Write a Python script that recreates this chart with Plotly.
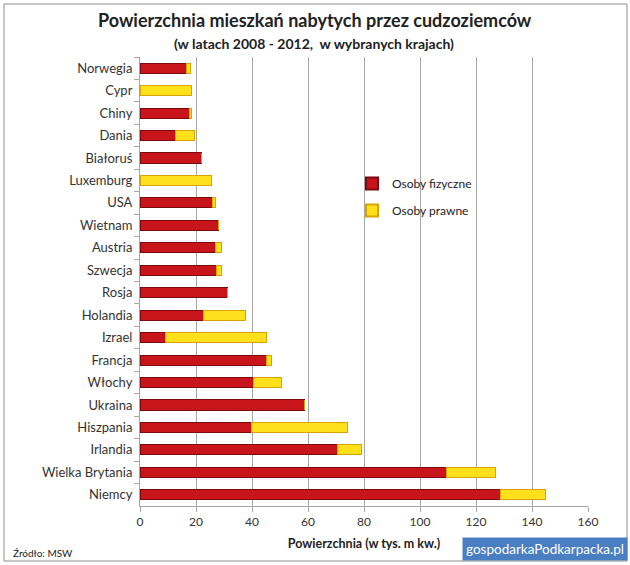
import plotly.graph_objects as go

countries = ["Norwegia", "Cypr", "Chiny", "Dania", "Białoruś", "Luxemburg", "USA", "Wietnam",
             "Austria", "Szwecja", "Rosja", "Holandia", "Izrael", "Francja", "Włochy", "Ukraina",
             "Hiszpania", "Irlandia", "Wielka Brytania", "Niemcy"]
osoby_fizyczne = [16.5, 0.0, 17.5, 12.7, 22.1, 0.0, 25.8, 28.2, 27.0, 27.2, 31.2, 22.5, 9.1, 45.3,
                  40.6, 58.8, 39.7, 70.6, 109.5, 128.7]
osoby_prawne = [1.5, 18.4, 0.9, 6.8, 0.0, 25.6, 1.1, 0.0, 2.0, 1.8, 0.0, 15.1, 36.2, 1.5,
                10.0, 0.0, 34.5, 8.6, 17.3, 16.1]
x_ticks = [0, 20, 40, 60, 80, 100, 120, 140, 160]

FONT = "Lato, 'Open Sans', sans-serif"

fig = go.Figure()
fig.add_trace(go.Bar(
    y=countries, x=osoby_fizyczne, orientation="h", name="Osoby fizyczne", legendgroup="a",
    marker=dict(color="#C8141B", line=dict(color="#7A0A0E", width=1)),
))
fig.add_trace(go.Bar(
    y=countries, x=osoby_prawne, orientation="h", name="Osoby prawne", legendgroup="b",
    marker=dict(color="#FFE01A", line=dict(color="#D9A300", width=1)),
))

L, R, T, B = 140, 42, 57, 59
W, H = 630, 565
pw, ph = W - L - R, H - T - B


def px(x):
    return (x - L) / pw


def py(y):
    return (H - B - y) / ph


fig.update_layout(
    width=W, height=H,
    margin=dict(l=L, r=R, t=T, b=B),
    barmode="stack", bargap=0.55,
    plot_bgcolor="white", paper_bgcolor="white",
    font=dict(family=FONT, size=12, color="#222222"),
    showlegend=True,
    legend=dict(x=px(352), y=py(169), xanchor="left", yanchor="top",
                bgcolor="rgba(255,255,255,0)", font=dict(size=12, color="#222"),
                tracegroupgap=8, itemsizing="constant", traceorder="grouped"),
    xaxis=dict(range=[0, 160], tickvals=x_ticks, showgrid=True, gridcolor="#A6A6A6",
               gridwidth=1, zeroline=False, showline=True, linecolor="#A6A6A6",
               ticks="outside", ticklen=5, tickcolor="#A6A6A6",
               tickfont=dict(size=12, color="#333"),
               title=dict(text="<b>Powierzchnia (w tys. m kw.)</b>", font=dict(size=12.5, color="#222"),
                          standoff=10)),
    yaxis=dict(autorange="reversed", showline=True, linecolor="#A6A6A6", ticks="outside",
               tickson="boundaries", ticklen=5, tickcolor="#A6A6A6", ticklabelstandoff=4,
               tickfont=dict(size=13, color="#333"), showgrid=False),
    annotations=[
        dict(text="<b>Powierzchnia mieszkań nabytych przez cudzoziemców</b>", x=px(315), y=py(20),
             xref="paper", yref="paper", yanchor="middle", showarrow=False,
             font=dict(size=18, color="#222")),
        dict(text="<b>(w latach 2008 - 2012,  w wybranych krajach)</b>", x=px(314), y=py(43),
             xref="paper", yref="paper", yanchor="middle", showarrow=False,
             font=dict(size=14, color="#222")),
        dict(text="Źródło: MSW", x=px(11), y=py(553), xref="paper", yref="paper", xanchor="left",
             yanchor="middle", showarrow=False, font=dict(size=10, color="#222")),
        dict(text="gospodarkaPodkarpacka.pl", x=px(628), y=py(549), xref="paper", yref="paper",
             xanchor="right", yanchor="middle", showarrow=False, bgcolor="#4A7EC2", borderpad=3,
             font=dict(size=13.5, color="white")),
    ],
    shapes=[
        dict(type="rect", xref="paper", yref="paper", x0=px(4), x1=px(627), y0=py(561), y1=py(4),
             line=dict(color="#8C8C8C", width=1), fillcolor="rgba(0,0,0,0)", layer="below"),
    ],
)

fig.write_html("out.html", config={"displayModeBar": False},
               post_script="document.body.style.margin='0';")
